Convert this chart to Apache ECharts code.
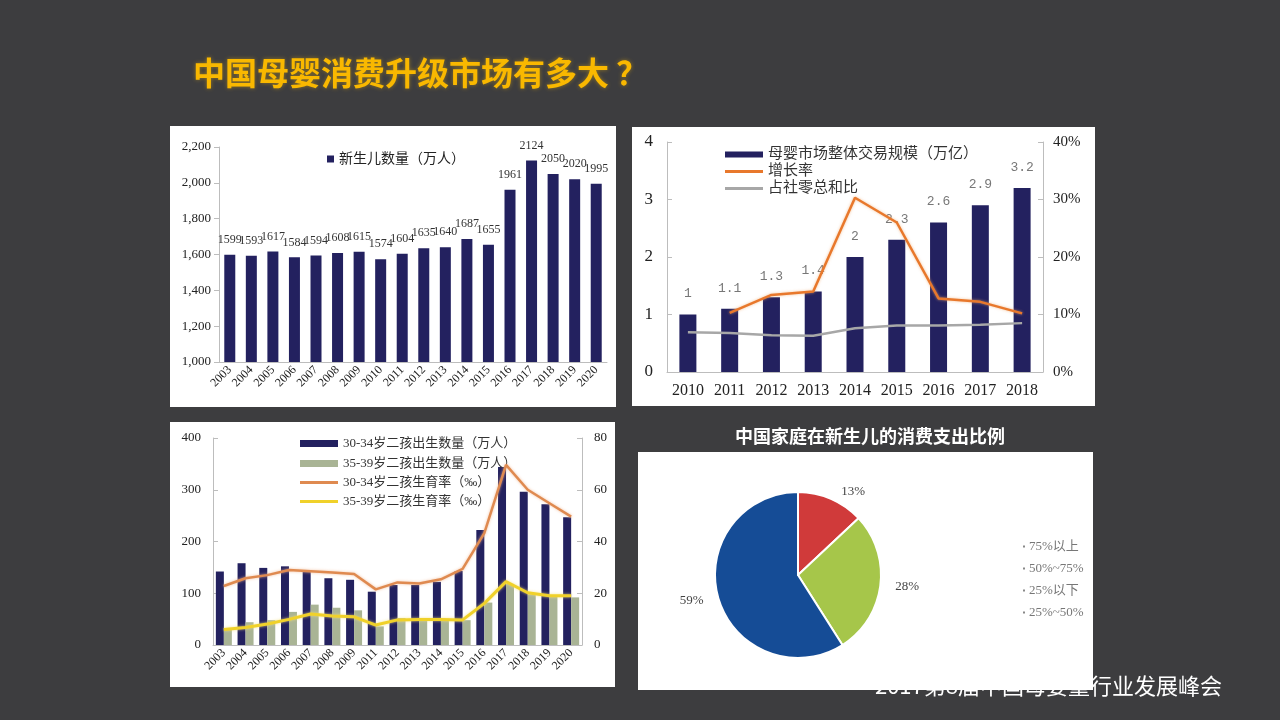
<!DOCTYPE html>
<html>
<head>
<meta charset="utf-8">
<script src="https://cdn.jsdelivr.net/npm/echarts@6/dist/echarts.min.js"></script>
<style>
  html, body { margin: 0; padding: 0; background: #3d3d3f; }
  #main { width: 1280px; height: 720px; }
</style>
</head>
<body>
<div id="main"></div>
<script>
// 新生儿数量
const years1 = ['2003', '2004', '2005', '2006', '2007', '2008', '2009', '2010', '2011',
  '2012', '2013', '2014', '2015', '2016', '2017', '2018', '2019', '2020'];
const births = [1599, 1593, 1617, 1584, 1594, 1608, 1615, 1574, 1604,
  1635, 1640, 1687, 1655, 1961, 2124, 2050, 2020, 1995];

// 母婴市场规模
const years2 = ['2010', '2011', '2012', '2013', '2014', '2015', '2016', '2017', '2018'];
const marketSize = [1, 1.1, 1.3, 1.4, 2, 2.3, 2.6, 2.9, 3.2];
const growthRate = [null, 10.3, 13.4, 14.0, 30.3, 26.0, 12.8, 12.2, 10.2];
const retailShare = [6.9, 6.8, 6.4, 6.3, 7.6, 8.1, 8.1, 8.2, 8.5];

// 二孩出生 (没有2010)
const years3 = ['2003', '2004', '2005', '2006', '2007', '2008', '2009', '2011', '2012',
  '2013', '2014', '2015', '2016', '2017', '2018', '2019', '2020'];
const births3034 = [142, 158, 149, 152, 141, 129, 126, 103, 116, 116, 122, 143, 222, 344, 296, 272, 247];
const births3539 = [32, 44, 48, 64, 78, 72, 67, 36, 52, 48, 47, 48, 82, 118, 98, 95, 92];
const rate3034 = [22.8, 25.8, 27.0, 29.0, 28.5, 28.0, 27.4, 21.5, 24.2, 23.8, 25.4, 29.4, 43.2, 69.6, 60.0, 54.8, 49.6];
const rate3539 = [6.0, 6.8, 8.1, 9.9, 12.0, 11.2, 10.9, 7.7, 9.7, 9.9, 9.9, 9.7, 16.1, 24.5, 20.2, 19.0, 19.0];

// 消费支出比例
const pieNames = ['75%以上', '50%~75%', '25%以下', '25%~50%'];
const pieValues = [13, 28, 59, 0];
const pieColors = ['#d03a3a', '#a6c64a', '#154c96', '#888888'];

const serif = "'Liberation Serif', 'Noto Sans CJK SC', serif";
const navy = '#23215f';
const axisGray = '#bdbdbd';

// 一行一个图例, 方便对齐
function rowLegend(name, left, top, h, size) {
  return {
    left: left, top: top, itemWidth: 38, itemHeight: h, icon: 'rect', itemGap: 0,
    data: [name],
    textStyle: { fontSize: size, color: '#333', fontFamily: serif }
  };
}

const chart = echarts.init(document.getElementById('main'));

const option = {
  backgroundColor: '#3d3d3f',
  animation: false,
  textStyle: { fontFamily: serif },
  title: [
    {
      text: '中国母婴消费升级市场有多大 ？',
      left: 188, top: 52,
      textStyle: {
        color: '#f9b800', fontSize: 32, fontWeight: 'bold',
        fontFamily: "'Noto Sans CJK SC', sans-serif",
        textShadowColor: 'rgba(255, 190, 0, 0.45)', textShadowBlur: 4
      }
    },
    {
      text: '中国家庭在新生儿的消费支出比例',
      left: 865, top: 422, textAlign: 'center',
      textStyle: {
        color: '#ffffff', fontSize: 18, fontWeight: 'bold',
        fontFamily: "'Noto Sans CJK SC', sans-serif"
      }
    }
  ],
  graphic: [
    {
      type: 'text', right: 58, top: 675, z: -10,
      style: {
        text: '2017第8届中国母婴童行业发展峰会', fill: '#ffffff',
        font: "22px 'Noto Sans CJK SC', sans-serif"
      }
    },
    { type: 'rect', shape: { x: 170, y: 126, width: 446, height: 281 }, style: { fill: '#fff' }, z: -5 },
    { type: 'rect', shape: { x: 632, y: 127, width: 463, height: 279 }, style: { fill: '#fff' }, z: -5 },
    { type: 'rect', shape: { x: 170, y: 422, width: 445, height: 265 }, style: { fill: '#fff' }, z: -5 },
    { type: 'rect', shape: { x: 638, y: 452, width: 455, height: 238 }, style: { fill: '#fff' }, z: -5 }
  ],
  legend: [
    {
      left: 322, top: 147, itemWidth: 7, itemHeight: 7, icon: 'rect',
      data: ['新生儿数量（万人）'],
      textStyle: { fontSize: 14, color: '#222', fontFamily: serif }
    },
    rowLegend('母婴市场整体交易规模（万亿）', 720, 142, 6, 15),
    rowLegend('增长率', 720, 159, 3, 15),
    rowLegend('占社零总和比', 720, 176, 3, 15),
    rowLegend('30-34岁二孩出生数量（万人）', 295, 432, 7, 13),
    rowLegend('35-39岁二孩出生数量（万人）', 295, 452, 7, 13),
    rowLegend('30-34岁二孩生育率（‰）', 295, 471, 3, 13),
    rowLegend('35-39岁二孩生育率（‰）', 295, 490, 3, 13),
    {
      left: 1016, top: 535, orient: 'vertical', itemWidth: 4, itemHeight: 4, itemGap: 9, icon: 'rect',
      itemStyle: { color: '#888' },
      data: pieNames,
      textStyle: { fontSize: 13, color: '#777', fontFamily: serif, padding: [0, 0, 0, -2] }
    }
  ],
  grid: [
    { left: 219, right: 673, top: 147, bottom: 358 },
    { left: 667, right: 237, top: 142, bottom: 348 },
    { left: 213, right: 698, top: 438, bottom: 75 }
  ],
  xAxis: [
    {
      gridIndex: 0, type: 'category', data: years1,
      axisLine: { lineStyle: { color: axisGray } },
      axisTick: { lineStyle: { color: axisGray } },
      axisLabel: { rotate: 45, color: '#222', fontSize: 12, margin: 6, interval: 0 }
    },
    {
      gridIndex: 1, type: 'category', data: years2,
      axisLine: { lineStyle: { color: axisGray } },
      axisTick: { show: false },
      axisLabel: { color: '#222', fontSize: 16, margin: 11 }
    },
    {
      gridIndex: 2, type: 'category', data: years3,
      axisLine: { lineStyle: { color: axisGray } },
      axisTick: { lineStyle: { color: axisGray } },
      axisLabel: { rotate: 45, color: '#222', fontSize: 12, margin: 6, interval: 0 }
    }
  ],
  yAxis: [
    {
      gridIndex: 0, type: 'value', min: 1000, max: 2200, interval: 200,
      splitLine: { show: false },
      axisLine: { show: true, lineStyle: { color: axisGray } },
      axisTick: { show: true, lineStyle: { color: axisGray } },
      axisLabel: {
        color: '#222', fontSize: 13,
        formatter: v => v.toLocaleString('en-US')
      }
    },
    {
      gridIndex: 1, type: 'value', min: 0, max: 4, interval: 1,
      splitLine: { show: false },
      axisLine: { show: true, lineStyle: { color: axisGray } },
      axisTick: { show: true, inside: true, lineStyle: { color: axisGray } },
      axisLabel: { color: '#222', fontSize: 17, margin: 14 }
    },
    {
      gridIndex: 1, type: 'value', min: 0, max: 40, interval: 10, position: 'right',
      splitLine: { show: false },
      axisLine: { show: true, lineStyle: { color: axisGray } },
      axisTick: { show: true, inside: true, lineStyle: { color: axisGray } },
      axisLabel: { color: '#222', fontSize: 15, margin: 10, formatter: '{value}%' }
    },
    {
      gridIndex: 2, type: 'value', min: 0, max: 400, interval: 100,
      splitLine: { show: false },
      axisLine: { show: true, lineStyle: { color: axisGray } },
      axisTick: { show: true, inside: true, lineStyle: { color: axisGray } },
      axisLabel: { color: '#222', fontSize: 13, margin: 12 }
    },
    {
      gridIndex: 2, type: 'value', min: 0, max: 80, interval: 20, position: 'right',
      splitLine: { show: false },
      axisLine: { show: true, lineStyle: { color: axisGray } },
      axisTick: { show: true, inside: true, lineStyle: { color: axisGray } },
      axisLabel: { color: '#222', fontSize: 13, margin: 12 }
    }
  ],
  series: [
    {
      name: '新生儿数量（万人）', type: 'bar', xAxisIndex: 0, yAxisIndex: 0,
      data: births, barWidth: 11, itemStyle: { color: navy },
      label: { show: true, position: 'top', distance: 9, color: '#333', fontSize: 12 }
    },
    {
      name: '母婴市场整体交易规模（万亿）', type: 'bar', xAxisIndex: 1, yAxisIndex: 1,
      data: marketSize, barWidth: 17, itemStyle: { color: navy },
      label: {
        show: true, position: 'top', distance: 14, color: '#777', fontSize: 13,
        fontFamily: "'Liberation Mono', monospace"
      }
    },
    {
      name: '增长率', type: 'line', xAxisIndex: 1, yAxisIndex: 2,
      data: growthRate, symbol: 'none', z: 4,
      lineStyle: { color: '#e8782c', width: 2.5, shadowColor: 'rgba(240,170,110,0.7)', shadowBlur: 3 },
      itemStyle: { color: '#e8782c' }
    },
    {
      name: '占社零总和比', type: 'line', xAxisIndex: 1, yAxisIndex: 2,
      data: retailShare, symbol: 'none', z: 4,
      lineStyle: { color: '#a7a7a7', width: 2.5 },
      itemStyle: { color: '#a7a7a7' }
    },
    {
      name: '30-34岁二孩出生数量（万人）', type: 'bar', xAxisIndex: 2, yAxisIndex: 3,
      data: births3034, barWidth: 8, barGap: '0%', itemStyle: { color: navy }
    },
    {
      name: '35-39岁二孩出生数量（万人）', type: 'bar', xAxisIndex: 2, yAxisIndex: 3,
      data: births3539, barWidth: 8, barGap: '0%', itemStyle: { color: '#a9b495' }
    },
    {
      name: '30-34岁二孩生育率（‰）', type: 'line', xAxisIndex: 2, yAxisIndex: 4,
      data: rate3034, symbol: 'none', z: 4,
      lineStyle: { color: '#df8a50', width: 2.5, shadowColor: 'rgba(240,180,140,0.8)', shadowBlur: 3 },
      itemStyle: { color: '#df8a50' }
    },
    {
      name: '35-39岁二孩生育率（‰）', type: 'line', xAxisIndex: 2, yAxisIndex: 4,
      data: rate3539, symbol: 'none', z: 4,
      lineStyle: { color: '#f0d12a', width: 3, shadowColor: 'rgba(245,225,120,0.8)', shadowBlur: 3 },
      itemStyle: { color: '#f0d12a' }
    },
    {
      name: '消费支出比例', type: 'pie', center: [798, 575], radius: 83,
      startAngle: 90, clockwise: true,
      data: pieNames.map((n, i) => ({
        name: n, value: pieValues[i],
        itemStyle: { color: pieColors[i] },
        label: { show: pieValues[i] > 0 }
      })),
      itemStyle: { borderColor: '#fff', borderWidth: 2 },
      label: {
        show: true, position: 'outside', formatter: '{c}%',
        color: '#444', fontSize: 13, fontFamily: serif
      },
      labelLine: { show: false, length: 8, length2: 2 },
      emphasis: { disabled: true }
    }
  ]
};

chart.setOption(option);
</script>
</body>
</html>
